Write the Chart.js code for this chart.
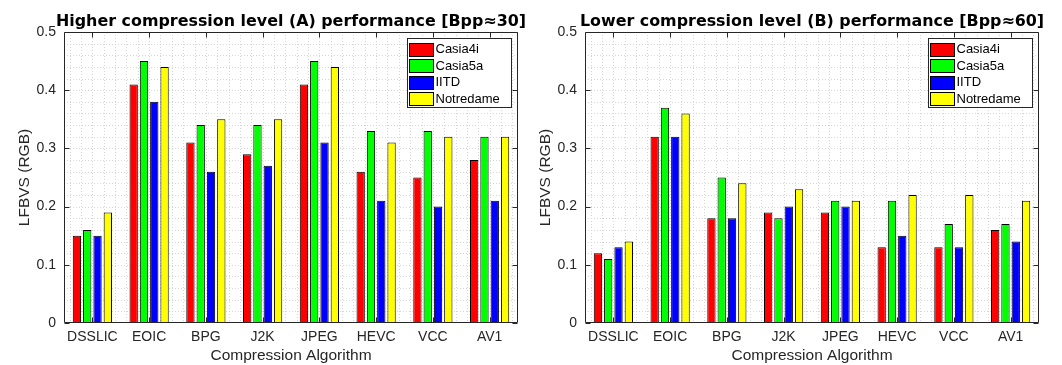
<!DOCTYPE html>
<html>
<head>
<meta charset="utf-8">
<script src="https://cdn.jsdelivr.net/npm/chart.js@4"></script>
<style>
  html, body { margin: 0; padding: 0; background: #ffffff; }
  body { width: 1062px; height: 365px; position: relative; overflow: hidden; }
  .c { position: absolute; top: 0; width: 530px; height: 365px; }
</style>
</head>
<body>
<div class="c" style="left:0px"><canvas id="chartA" width="530" height="365"></canvas></div>
<div class="c" style="left:521px"><canvas id="chartB" width="530" height="365"></canvas></div>
<script>
// ---------- data ----------
const categories = ['DSSLIC', 'EOIC', 'BPG', 'J2K', 'JPEG', 'HEVC', 'VCC', 'AV1'];
const seriesNames = ['Casia4i', 'Casia5a', 'IITD', 'Notredame'];
const seriesColors = ['#ff0000', '#00ff00', '#0000ff', '#ffff00'];

const casia4iA   = [0.15, 0.41, 0.31, 0.29, 0.41, 0.26, 0.25, 0.28];
const casia5aA   = [0.16, 0.45, 0.34, 0.34, 0.45, 0.33, 0.33, 0.32];
const iitdA      = [0.15, 0.38, 0.26, 0.27, 0.31, 0.21, 0.20, 0.21];
const notredameA = [0.19, 0.44, 0.35, 0.35, 0.44, 0.31, 0.32, 0.32];

const casia4iB   = [0.12, 0.32, 0.18, 0.19, 0.19, 0.13, 0.13, 0.16];
const casia5aB   = [0.11, 0.37, 0.25, 0.18, 0.21, 0.21, 0.17, 0.17];
const iitdB      = [0.13, 0.32, 0.18, 0.20, 0.20, 0.15, 0.13, 0.14];
const notredameB = [0.14, 0.36, 0.24, 0.23, 0.21, 0.22, 0.22, 0.21];

const yTickValues = [0, 0.1, 0.2, 0.3, 0.4, 0.5];
const yTickLabels = ['0', '0.1', '0.2', '0.3', '0.4', '0.5'];

const titleA = 'Higher compression level (A) performance [Bpp\u224830]';
const titleB = 'Lower compression level (B) performance [Bpp\u224860]';
const xAxisTitle = 'Compression Algorithm';
const yAxisTitle = 'LFBVS (RGB)';

// ---------- styling ----------
const AXIS_COLOR = '#262626';
const SANS = "'Liberation Sans', Arial, Helvetica, sans-serif";
Chart.defaults.font.family = SANS;
Chart.defaults.color = AXIS_COLOR;

const framePlugin = {
  id: 'frame',
  beforeDatasetsDraw(chart) {
    const { ctx, chartArea: a, scales: { x, y } } = chart;
    ctx.save();
    ctx.strokeStyle = '#d6d6d6';
    ctx.lineWidth = 1;
    ctx.setLineDash([1, 2]);
    ctx.beginPath();
    for (let v = 0.02; v < y.max - 1e-9; v += 0.02) {
      const py = Math.round(y.getPixelForValue(v)) + 0.5;
      ctx.moveTo(a.left, py); ctx.lineTo(a.right, py);
    }
    const unit = (x.right - x.left) / categories.length;
    categories.forEach((c, i) => {
      const cx = x.getPixelForValue(i);
      for (let k = -2; k <= 2; k++) {
        const px = Math.round(cx + k * 0.2 * unit) + 0.5;
        ctx.moveTo(px, a.top); ctx.lineTo(px, a.bottom);
      }
    });
    ctx.stroke();
    ctx.restore();
  },
  afterDatasetsDraw(chart, args, opts) {
    const { ctx, chartArea: a, scales: { x, y } } = chart;
    ctx.save();
    ctx.setLineDash([]);
    ctx.strokeStyle = AXIS_COLOR;
    ctx.lineWidth = 1;
    const L = Math.round(a.left) + 0.5, R = Math.round(a.right) - 0.5;
    const T = Math.round(a.top) + 0.5, B = Math.round(a.bottom) - 0.5;
    ctx.beginPath();
    ctx.rect(L, T, R - L, B - T);
    yTickValues.forEach(v => {
      const py = Math.round(y.getPixelForValue(v)) + 0.5;
      ctx.moveTo(L, py); ctx.lineTo(L + 5, py);
      ctx.moveTo(R, py); ctx.lineTo(R - 5, py);
    });
    categories.forEach((c, i) => {
      const px = Math.round(x.getPixelForValue(i)) + 0.5;
      ctx.moveTo(px, T); ctx.lineTo(px, T + 5);
      ctx.moveTo(px, B); ctx.lineTo(px, B - 5);
    });
    ctx.stroke();

    // legend box (top-right, inside plot)
    const ds = chart.data.datasets;
    const rowH = 16.5, boxW = 104, boxH = 69;
    const bx = Math.round(a.right - 7 - boxW) + 0.5;
    const by = Math.round(a.top + 6) + 0.5;
    ctx.fillStyle = '#ffffff';
    ctx.fillRect(bx, by, boxW, boxH);
    ctx.strokeStyle = AXIS_COLOR;
    ctx.strokeRect(bx, by, boxW, boxH);
    ctx.font = '13px ' + SANS;
    ctx.textBaseline = 'middle';
    ctx.textAlign = 'left';
    ds.forEach((d, i) => {
      const cy = by + 10.5 + i * rowH;
      const sx = bx + 2, sw = 24, sh = 13;
      ctx.fillStyle = d.backgroundColor;
      ctx.fillRect(sx, Math.round(cy - sh / 2) + 0.5, sw, sh);
      ctx.strokeStyle = '#000000';
      ctx.strokeRect(sx, Math.round(cy - sh / 2) + 0.5, sw, sh);
      ctx.fillStyle = '#000000';
      ctx.fillText(d.label, sx + sw + 2, cy + 0.5);
    });
    ctx.restore();
  },
  afterDraw(chart, args, opts) {
    const { ctx, chartArea: a } = chart;
    ctx.save();
    ctx.font = "bold 15.9px 'DejaVu Sans', sans-serif";
    ctx.fillStyle = '#000000';
    ctx.textAlign = 'center';
    ctx.textBaseline = 'alphabetic';
    ctx.fillText(opts.title || '', (a.left + a.right) / 2, 26);
    ctx.restore();
  }
};

function makeChart(id, title, values) {
  const datasets = seriesNames.map((name, i) => ({
    label: name,
    data: values[i],
    backgroundColor: seriesColors[i],
    borderColor: '#000000',
    borderWidth: 1,
    borderSkipped: false,
    categoryPercentage: 0.726,
    barPercentage: 0.806
  }));
  return new Chart(document.getElementById(id), {
    type: 'bar',
    data: { labels: categories, datasets },
    plugins: [framePlugin],
    options: {
      responsive: false,
      animation: false,
      devicePixelRatio: 1,
      layout: { padding: { top: 32, right: 12, bottom: 0, left: 0 } },
      plugins: {
        legend: { display: false },
        tooltip: { enabled: false },
        title: { display: false },
        frame: { title }
      },
      scales: {
        x: {
          grid: { display: false, drawTicks: false },
          border: { display: false },
          ticks: { color: AXIS_COLOR, font: { size: 14 }, padding: 6, autoSkip: false, maxRotation: 0 },
          title: { display: true, text: xAxisTitle, color: AXIS_COLOR, font: { size: 15.5 }, padding: { top: 1, bottom: 0 } },
          afterFit(s) { s.height = 42; }
        },
        y: {
          min: 0, max: 0.5,
          grid: { display: false, drawTicks: false },
          border: { display: false },
          afterBuildTicks(s) { s.ticks = yTickValues.map(v => ({ value: v })); },
          ticks: {
            color: AXIS_COLOR, font: { size: 14 }, padding: 8, autoSkip: false,
            callback(v) { const i = yTickValues.findIndex(t => Math.abs(t - v) < 1e-9); return i >= 0 ? yTickLabels[i] : ''; }
          },
          title: { display: true, text: yAxisTitle, color: AXIS_COLOR, font: { size: 15.5 }, padding: { top: 15, bottom: 0 } },
          afterFit(s) { s.width = 64; }
        }
      }
    }
  });
}

makeChart('chartA', titleA, [casia4iA, casia5aA, iitdA, notredameA]);
makeChart('chartB', titleB, [casia4iB, casia5aB, iitdB, notredameB]);
</script>
</body>
</html>
